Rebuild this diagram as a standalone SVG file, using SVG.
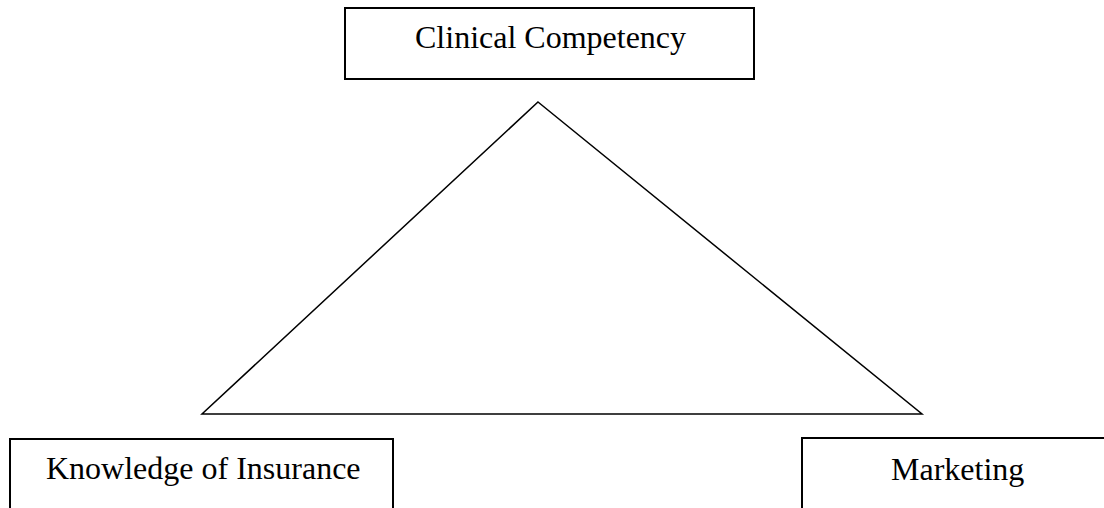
<svg xmlns="http://www.w3.org/2000/svg" width="1104" height="508" viewBox="0 0 1104 508">
  <style>
    .box { fill: #ffffff; stroke: #000000; stroke-width: 2; }
    .label { font-family: "Liberation Serif", "Times New Roman", serif; font-size: 32px; fill: #000000; }
    .edge { fill: none; stroke: #000000; stroke-width: 1.5; stroke-linejoin: miter; }
  </style>
  <rect width="1104" height="508" fill="#ffffff"/>

  <!-- triangle linking the three competencies -->
  <g id="connectors">
    <polygon class="edge" points="538,102 922,414 202,414"/>
  </g>

  <g id="clinical-competency">
    <rect class="box" x="345" y="8" width="409" height="71"/>
    <text class="label" x="415" y="48">Clinical Competency</text>
  </g>

  <g id="knowledge-of-insurance">
    <rect class="box" x="10" y="439" width="383" height="80"/>
    <text class="label" x="46" y="479">Knowledge of Insurance</text>
  </g>

  <g id="marketing">
    <rect class="box" x="802" y="438" width="320" height="80"/>
    <text class="label" x="891" y="480">Marketing</text>
  </g>
</svg>
